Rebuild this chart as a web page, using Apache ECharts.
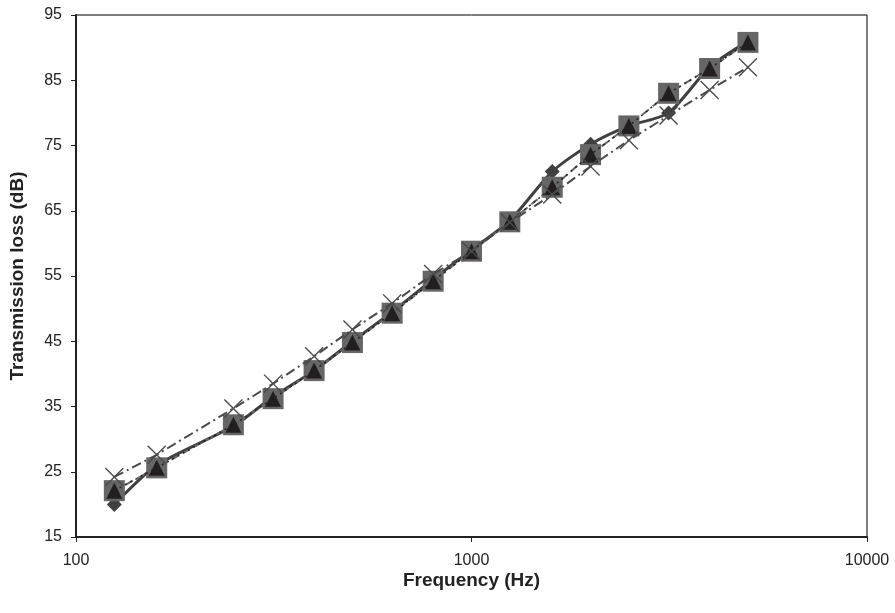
<!DOCTYPE html>
<html>
<head>
<meta charset="utf-8">
<script src="https://cdn.jsdelivr.net/npm/echarts@6/dist/echarts.min.js"></script>
<style>
    html, body {margin: 0; padding: 0; background: #fff;}
    #chart {width: 895px; height: 613px;}
</style>
</head>
<body>
<div id="chart"></div>
<script>
// 1/3 octave band centre frequencies (Hz)
var freqs = [125, 160, 250, 315, 400, 500, 630, 800, 1000, 1250, 1600, 2000, 2500, 3150, 4000, 5000];

// transmission loss (dB) for each curve
var diamondTL = [20, 26, 32, 36.5, 40.5, 45, 49.5, 54.5, 59, 63.5, 71, 75.2, 78, 80, 87, 91];
var squareTL = [22.1, 25.6, 32.2, 36.2, 40.5, 44.8, 49.3, 54.2, 58.8, 63.3, 68.6, 73.6, 78, 83, 86.8, 90.8];
var triangleTL = [22.1, 25.6, 32.2, 36.2, 40.5, 44.8, 49.3, 54.2, 58.8, 63.3, 68.6, 73.6, 78, 83, 86.8, 90.8];
var crossTL = [24.2, 27.6, 34.7, 38.5, 42.7, 46.8, 50.8, 55.3, 58.8, 63.2, 67.5, 71.8, 75.8, 79.6, 83.5, 87];

var yTicks = {min: 15, max: 95, step: 10};
var xRange = {min: 100, max: 10000};

function pairs(vals) {
    var out = [];
    for (var i = 0; i < freqs.length; i++) {
        out.push([freqs[i], vals[i]]);
    }
    return out;
}

// thin X marker
var crossPath = 'path://M0,1 L1,0 L10,9 L19,0 L20,1 L11,10 L20,19 L19,20 L10,11 L1,20 L0,19 L9,10 Z';

var chart = echarts.init(document.getElementById('chart'));
var option = {
    backgroundColor: '#fff',
    animation: false,
    grid: {
        left: 76,
        top: 15,
        right: 28,
        bottom: 76,
        outerBoundsMode: 'none',
        containLabel: false,
        show: true,
        borderColor: '#000',
        borderWidth: 1
    },
    xAxis: {
        type: 'log',
        logBase: 10,
        min: xRange.min,
        max: xRange.max,
        name: 'Frequency (Hz)',
        nameLocation: 'middle',
        nameGap: 34,
        nameMoveOverlap: false,
        nameTextStyle: {fontFamily: 'Liberation Sans', fontSize: 19, fontWeight: 'bold', color: '#222'},
        axisLine: {lineStyle: {color: '#222', width: 2}},
        axisTick: {show: true, length: 5, lineStyle: {color: '#222'}},
        minorTick: {show: false},
        splitLine: {show: false},
        axisLabel: {
            fontFamily: 'Liberation Sans', fontSize: 16, color: '#222', margin: 16,
            formatter: function (v) { return String(v); }
        }
    },
    yAxis: {
        type: 'value',
        min: yTicks.min,
        max: yTicks.max,
        interval: yTicks.step,
        name: 'Transmission loss (dB)',
        nameLocation: 'middle',
        nameGap: 49,
        nameMoveOverlap: false,
        nameTextStyle: {fontFamily: 'Liberation Sans', fontSize: 19, fontWeight: 'bold', color: '#222'},
        axisLine: {show: true, lineStyle: {color: '#222', width: 2}},
        axisTick: {show: true, length: 5, lineStyle: {color: '#222'}},
        splitLine: {show: false},
        axisLabel: {fontFamily: 'Liberation Sans', fontSize: 16, color: '#222', margin: 14}
    },
    series: [
        {
            name: 'diamond',
            type: 'line',
            data: pairs(diamondTL),
            smooth: 0.25,
            symbol: 'diamond',
            symbolSize: 15,
            itemStyle: {color: '#404040'},
            lineStyle: {color: '#404040', width: 3},
            z: 2
        },
        {
            name: 'square',
            type: 'line',
            data: pairs(squareTL),
            symbol: 'rect',
            symbolSize: 21,
            itemStyle: {color: '#666666'},
            lineStyle: {color: '#666666', width: 2, type: [8, 5]},
            z: 3
        },
        {
            name: 'triangle',
            type: 'line',
            data: pairs(triangleTL),
            symbol: 'triangle',
            symbolSize: [16, 16],
            itemStyle: {color: '#231f20'},
            lineStyle: {color: '#231f20', width: 1.5, type: [2, 4]},
            z: 4
        },
        {
            name: 'cross',
            type: 'line',
            data: pairs(crossTL),
            symbol: crossPath,
            symbolSize: 19,
            itemStyle: {color: '#4a4a4a'},
            lineStyle: {color: '#4a4a4a', width: 2, type: [10, 4, 2, 4]},
            z: 5
        }
    ]
};
chart.setOption(option);
</script>
</body>
</html>
